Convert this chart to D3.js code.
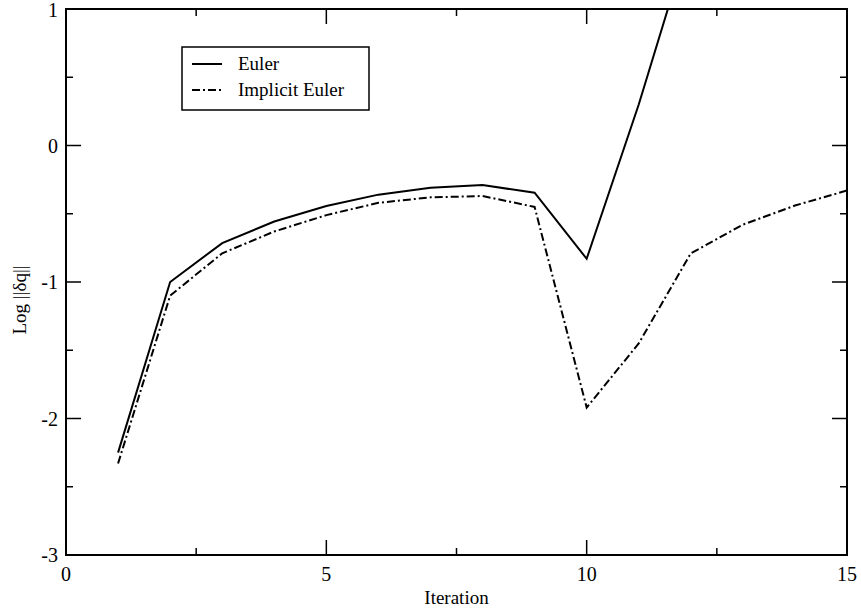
<!DOCTYPE html>
<html lang="en">
<head>
<meta charset="UTF-8">
<title>Log ||dq|| vs Iteration</title>
<script src="https://cdnjs.cloudflare.com/ajax/libs/d3/7.8.5/d3.min.js"></script>
<style>
    body { margin: 0; background: #fff; }
    text { font-family: "Liberation Serif", "Times New Roman", serif; fill: #000; }
    .frame { fill: none; stroke: #000; stroke-width: 2; }
    .tick-major { stroke: #000; stroke-width: 1.5; }
    .tick-minor { stroke: #000; stroke-width: 1.5; }
    .series { fill: none; stroke: #000; stroke-width: 2; }
</style>
</head>
<body>
<script>
// data
var iterEuler = [1, 2, 3, 4, 5, 6, 7, 8, 9, 10, 11, 12];
var valEuler = [-2.25, -1.0, -0.715, -0.557, -0.443, -0.36, -0.31, -0.29, -0.346, -0.83, 0.3, 1.55];

var iterImplicit = [1, 2, 3, 4, 5, 6, 7, 8, 9, 10, 11, 12, 13, 14, 15];
var valImplicit = [-2.33, -1.1, -0.79, -0.63, -0.51, -0.42, -0.38, -0.37, -0.45, -1.92, -1.45, -0.79, -0.58, -0.44, -0.33];

var xMajor = [0, 5, 10, 15];
var xMinor = [2.5, 7.5, 12.5];
var yMajor = [-3, -2, -1, 0, 1];
var yMinor = [-2.5, -1.5, -0.5, 0.5];

var legendNames = ["Euler", "Implicit Euler"];
var dashes = [null, "8,3,2,3"];

(function () {
    var width = 861, height = 610;
    var left = 66, right = 847, top = 9, bottom = 555;

    var svg = d3.select("body").append("svg")
        .attr("width", width)
        .attr("height", height);

    var x = d3.scaleLinear().domain([0, 15]).range([left, right]);
    var y = d3.scaleLinear().domain([-3, 1]).range([bottom, top]);

    svg.append("clipPath").attr("id", "plot")
        .append("rect")
        .attr("x", left).attr("y", top)
        .attr("width", right - left).attr("height", bottom - top);

    var line = d3.line()
        .x(function (d) { return x(d[0]); })
        .y(function (d) { return y(d[1]); });

    var series = [
        d3.zip(iterEuler, valEuler),
        d3.zip(iterImplicit, valImplicit)
    ];

    series.forEach(function (s, i) {
        svg.append("path")
            .attr("class", "series")
            .attr("clip-path", "url(#plot)")
            .attr("d", line(s))
            .attr("stroke-dasharray", dashes[i]);
    });

    // ticks on all four sides, pointing inwards
    var g = svg.append("g");
    function ticksX(vals, len, cls) {
        vals.forEach(function (v) {
            g.append("line").attr("class", cls)
                .attr("x1", x(v)).attr("x2", x(v))
                .attr("y1", bottom).attr("y2", bottom - len);
            g.append("line").attr("class", cls)
                .attr("x1", x(v)).attr("x2", x(v))
                .attr("y1", top).attr("y2", top + len);
        });
    }
    function ticksY(vals, len, cls) {
        vals.forEach(function (v) {
            g.append("line").attr("class", cls)
                .attr("x1", left).attr("x2", left + len)
                .attr("y1", y(v)).attr("y2", y(v));
            g.append("line").attr("class", cls)
                .attr("x1", right).attr("x2", right - len)
                .attr("y1", y(v)).attr("y2", y(v));
        });
    }
    ticksX(xMajor, 15, "tick-major");
    ticksX(xMinor, 7, "tick-minor");
    ticksY(yMajor, 15, "tick-major");
    ticksY(yMinor, 7, "tick-minor");

    svg.append("rect").attr("class", "frame")
        .attr("x", left).attr("y", top)
        .attr("width", right - left).attr("height", bottom - top);

    // tick labels
    svg.selectAll(".xlab").data(xMajor).enter().append("text")
        .attr("x", function (d) { return x(d); })
        .attr("y", 581)
        .attr("text-anchor", "middle")
        .style("font-size", "20px")
        .text(function (d) { return d; });

    svg.selectAll(".ylab").data(yMajor).enter().append("text")
        .attr("x", left - 8)
        .attr("y", function (d) { return Math.max(y(d) + 7, 17); })
        .attr("text-anchor", "end")
        .style("font-size", "20px")
        .text(function (d) { return d; });

    svg.append("text")
        .attr("x", (left + right) / 2)
        .attr("y", 604)
        .attr("text-anchor", "middle")
        .style("font-size", "19px")
        .text("Iteration");

    svg.append("text")
        .attr("transform", "translate(26,300) rotate(-90)")
        .attr("text-anchor", "middle")
        .style("font-size", "19px")
        .text("Log ||δq||");

    // legend
    var lg = svg.append("g");
    lg.append("rect")
        .attr("x", 182).attr("y", 47)
        .attr("width", 187).attr("height", 63)
        .attr("fill", "#fff").attr("stroke", "#000").attr("stroke-width", 1.5);
    legendNames.forEach(function (name, i) {
        var ly = 64 + i * 26;
        lg.append("line")
            .attr("x1", 192).attr("x2", 222)
            .attr("y1", ly).attr("y2", ly)
            .attr("stroke", "#000").attr("stroke-width", 2)
            .attr("stroke-dasharray", dashes[i]);
        lg.append("text")
            .attr("x", 238).attr("y", ly + 6)
            .style("font-size", "19px")
            .text(name);
    });
})();
</script>
</body>
</html>
